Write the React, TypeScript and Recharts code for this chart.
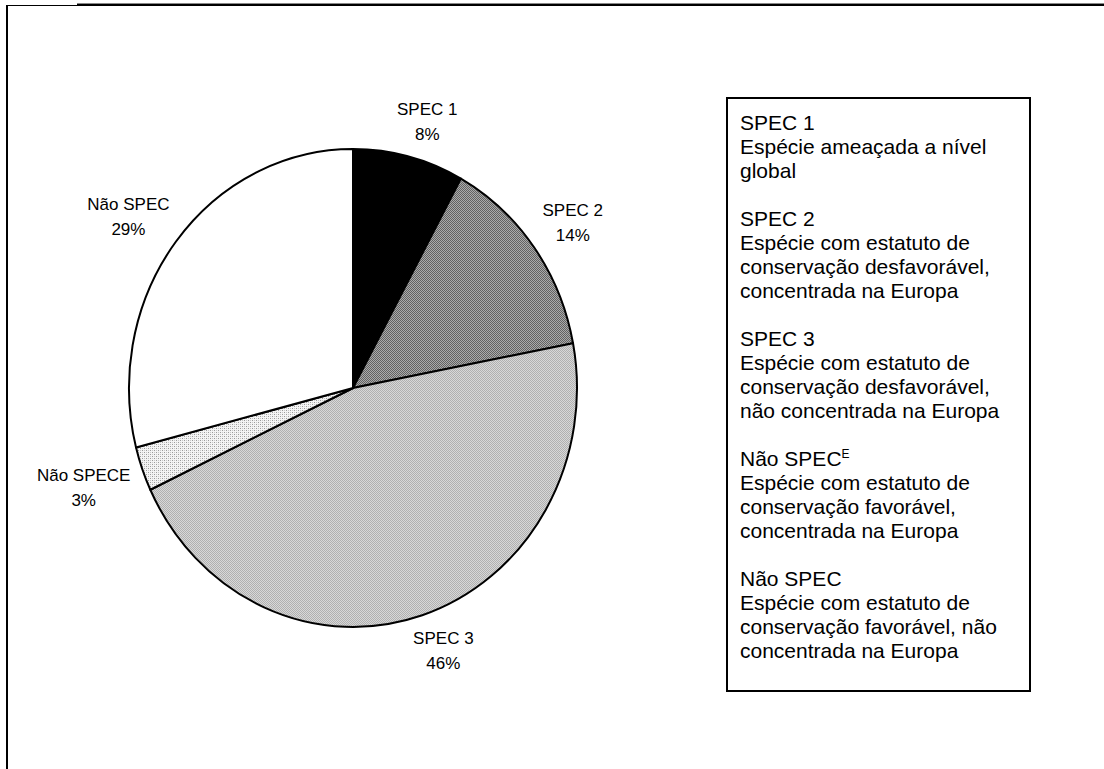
import { PieChart, Pie, Cell } from 'recharts';

const NAMES = ['SPEC 1', 'SPEC 2', 'SPEC 3', 'Não SPECE', 'Não SPEC'];
const VALUES = [8, 14, 46, 3, 29];
const FILLS = ['#000000', 'url(#pSpec2)', 'url(#pSpec3)', 'url(#pNaoE)', '#ffffff'];

const LEGEND_TITLES = ['SPEC 1', 'SPEC 2', 'SPEC 3', 'Não SPEC', 'Não SPEC'];
const LEGEND_SUP = ['', '', '', 'E', ''];
const LEGEND_LINES = [
  ['Espécie ameaçada a nível', 'global'],
  ['Espécie com estatuto de', 'conservação desfavorável,', 'concentrada na Europa'],
  ['Espécie com estatuto de', 'conservação desfavorável,', 'não concentrada na Europa'],
  ['Espécie com estatuto de', 'conservação favorável,', 'concentrada na Europa'],
  ['Espécie com estatuto de', 'conservação favorável, não', 'concentrada na Europa'],
];

const FONT = '"Liberation Sans", Arial, sans-serif';
const LABEL_SIZE = 17;
const CX = 348;
const CY = 383;
const RY = 239;
const SQUASH = 224 / 239; // the original pie is a little taller than wide
const GAP = 14;

const data = NAMES.map((name, i) => ({ name, value: VALUES[i] }));

let ctx: CanvasRenderingContext2D | null = null;
function textWidth(s: string) {
  if (!ctx) ctx = document.createElement('canvas').getContext('2d');
  if (!ctx) return s.length * LABEL_SIZE * 0.6;
  ctx.font = `${LABEL_SIZE}px "Liberation Sans"`;
  return ctx.measureText(s).width;
}

function EllipseSector(props: any) {
  const { cx, cy, outerRadius, startAngle, endAngle, fill } = props;
  const ry = outerRadius;
  const rx = outerRadius * SQUASH;
  const pt = (a: number) => [
    cx + rx * Math.cos((a * Math.PI) / 180),
    cy - ry * Math.sin((a * Math.PI) / 180),
  ];
  const [x1, y1] = pt(startAngle);
  const [x2, y2] = pt(endAngle);
  const large = Math.abs(endAngle - startAngle) > 180 ? 1 : 0;
  const sweep = startAngle > endAngle ? 1 : 0;
  return (
    <path
      d={`M${cx},${cy} L${x1},${y1} A${rx},${ry} 0 ${large} ${sweep} ${x2},${y2} Z`}
      fill={fill}
      stroke="#000"
      strokeWidth={2}
      strokeLinejoin="round"
    />
  );
}

// excel-ish "outside end": label box pushed off the rim along the mid angle
function renderLabel(props: any) {
  const { cx, cy, midAngle, outerRadius, name, percent } = props;
  const pct = `${Math.round(percent * 100)}%`;
  const rad = (midAngle * Math.PI) / 180;
  const c = Math.cos(rad);
  const s = Math.sin(rad);
  const ex = cx + (outerRadius * SQUASH + GAP) * c;
  const ey = cy - (outerRadius + GAP) * s;
  const w = Math.max(textWidth(name), textWidth(pct));
  const h = 44;
  const x = ex + Math.sign(c) * Math.sqrt(Math.abs(c)) * (w / 2);
  const y = ey - Math.sign(s) * Math.sqrt(Math.abs(s)) * (h / 2);
  return (
    <text x={x} y={y} textAnchor="middle" fontSize={LABEL_SIZE} fill="#000" fontFamily={FONT}>
      <tspan x={x} dy={-6}>{name}</tspan>
      <tspan x={x} dy={25}>{pct}</tspan>
    </text>
  );
}

function LegendBox() {
  return (
    <div
      style={{
        position: 'absolute',
        left: 726,
        top: 97,
        width: 305,
        height: 595,
        border: '2px solid #000',
        fontFamily: FONT,
        fontSize: 21,
        lineHeight: '24px',
        color: '#000',
        padding: '12px 0 0 12px',
        boxSizing: 'border-box',
        whiteSpace: 'nowrap',
      }}
    >
      {LEGEND_TITLES.map((t, i) => (
        <div key={i} style={{ marginBottom: 24 }}>
          <div>
            {t}
            {LEGEND_SUP[i] && (
              <sup style={{ fontSize: 12, lineHeight: 0, verticalAlign: 8 }}>{LEGEND_SUP[i]}</sup>
            )}
          </div>
          {LEGEND_LINES[i].map((l, j) => (
            <div key={j}>{l}</div>
          ))}
        </div>
      ))}
    </div>
  );
}

export default function App() {
  return (
    <div
      style={{
        position: 'absolute',
        left: 0,
        top: 0,
        width: 1104,
        height: 769,
        background: '#fff',
        overflow: 'hidden',
      }}
    >
      <svg width={0} height={0} style={{ position: 'absolute' }}>
        <defs>
          <pattern id="pSpec2" width={2} height={2} patternUnits="userSpaceOnUse">
            <rect width={2} height={2} fill="#ababab" />
            <rect width={1} height={1} fill="#626262" />
            <rect x={1} y={1} width={1} height={1} fill="#626262" />
          </pattern>
          <pattern id="pSpec3" width={2} height={2} patternUnits="userSpaceOnUse">
            <rect width={2} height={2} fill="#d8d8d8" />
            <rect width={1} height={1} fill="#b0b0b0" />
            <rect x={1} y={1} width={1} height={1} fill="#b0b0b0" />
          </pattern>
          <pattern id="pNaoE" width={4} height={4} patternUnits="userSpaceOnUse">
            <rect width={4} height={4} fill="#f4f4f4" />
            <rect width={1} height={1} fill="#9a9a9a" />
            <rect x={2} y={2} width={1} height={1} fill="#9a9a9a" />
            <rect x={2} y={0} width={1} height={1} fill="#c8c8c8" />
            <rect x={0} y={2} width={1} height={1} fill="#c8c8c8" />
          </pattern>
        </defs>
      </svg>
      {/* frame: thin then heavy top rule, left rule */}
      <div style={{ position: 'absolute', left: 6, top: 5, width: 72, height: 1, background: '#000' }} />
      <div style={{ position: 'absolute', left: 77, top: 3, width: 1027, height: 3, background: '#000', borderTop: '1px solid #888', boxSizing: 'border-box' }} />
      <div style={{ position: 'absolute', left: 6, top: 5, width: 2, height: 764, background: '#000' }} />
      <PieChart width={1104} height={769} style={{ position: 'absolute', left: 0, top: 0 }}>
        <Pie
          data={data}
          dataKey="value"
          nameKey="name"
          cx={CX}
          cy={CY}
          outerRadius={RY}
          startAngle={90}
          endAngle={-270}
          stroke="#000"
          strokeWidth={2}
          shape={EllipseSector}
          label={renderLabel}
          labelLine={false}
          isAnimationActive={false}
        >
          {data.map((d, i) => (
            <Cell key={d.name} fill={FILLS[i]} />
          ))}
        </Pie>
      </PieChart>
      <LegendBox />
    </div>
  );
}
